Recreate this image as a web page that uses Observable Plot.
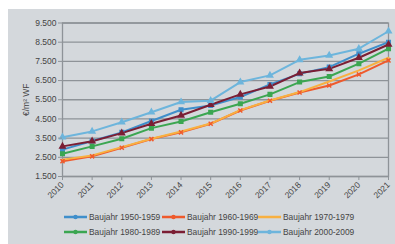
<!DOCTYPE html>
<html><head><meta charset="utf-8">
<script src="https://cdn.jsdelivr.net/npm/d3@7"></script>
<script src="https://cdn.jsdelivr.net/npm/@observablehq/plot@0.6"></script>
<style>
html,body{margin:0;padding:0;background:#fff;}
#box{position:absolute;left:8px;top:9px;width:387px;height:235px;background:#d4d8dc;font-family:"Liberation Sans",Arial,sans-serif;}
#legend{position:absolute;left:0;top:200px;width:387px;height:35px;font-size:8.4px;color:#444;}
.item{position:absolute;display:flex;align-items:center;white-space:nowrap;}
.item svg{margin-right:2px;}
</style></head><body>
<div id="box"><div id="chart"></div><div id="legend"></div></div>
<script>
const years = [2010,2011,2012,2013,2014,2015,2016,2017,2018,2019,2020,2021];
const seriesNames = ["Baujahr 1950-1959","Baujahr 1960-1969","Baujahr 1970-1979","Baujahr 1980-1989","Baujahr 1990-1999","Baujahr 2000-2009"];
const colors = ["#3f8fcb","#ef5a2c","#f8b040","#3ba651","#7b1e34","#6db5dc"];
const v1950 = [2900,3350,3800,4390,4980,5200,5640,6300,6850,7200,7900,8500];
const v1960 = [2300,2550,3000,3450,3800,4250,4940,5450,5880,6240,6820,7550];
const v1970 = [2380,2600,3030,3470,3850,4260,4960,5460,5900,6450,7030,7690];
const v1980 = [2690,3070,3470,4020,4370,4850,5290,5780,6420,6710,7380,8160];
const v1990 = [3070,3340,3760,4250,4680,5240,5780,6190,6890,7110,7690,8380];
const v2000 = [3550,3850,4330,4850,5380,5450,6420,6770,7580,7810,8160,9070];
const yTicks = [1500,2500,3500,4500,5500,6500,7500,8500,9500];
const yLabel = "€/m² WF";
const symbols = ["square","times","circle","square","triangle","triangle"];

const allValues = [v1950,v1960,v1970,v1980,v1990,v2000];
const data = [];
seriesNames.forEach((s,i)=>years.forEach((y,j)=>data.push({series:s, year:y, value:allValues[i][j]})));

const fmt = d => d3.format(",")(d).replace(/,/g,".");

const chart = Plot.plot({
  width: 387, height: 200,
  marginLeft: 54, marginRight: 7, marginTop: 13.5, marginBottom: 33,
  style:{background:"transparent", fontFamily:"'Liberation Sans',Arial,sans-serif", fontSize:"8.5px", color:"#444"},
  x:{type:"linear", domain:[2010,2021], ticks: years, tickFormat: d=>String(d), tickRotate:-45, tickSize:4, tickPadding:3, label:null},
  y:{domain:[1500,9500], ticks: yTicks, tickFormat: fmt, tickSize:4, tickPadding:2, label: yLabel, labelAnchor:"center", labelArrow:"none", labelOffset:40},
  color:{domain: seriesNames, range: colors},
  symbol:{domain: seriesNames, range: symbols},
  marks:[
    Plot.gridY(yTicks,{stroke:"#8e9398", strokeOpacity:1, strokeWidth:1.3}),
    Plot.frame({stroke:"#8e9398", strokeWidth:1.3}),
    Plot.lineY(data,{x:"year", y:"value", z:"series", stroke:"series", strokeWidth:2}),
    Plot.dot(data.filter(d=>d.series!=="Baujahr 1970-1979"),{x:"year", y:"value", fill:"series", stroke:"series", symbol:"series", r:2}),
    Plot.axisY(yTicks,{tickFormat:fmt, tickSize:4, tickPadding:2, stroke:"#8e9398", label: yLabel, labelAnchor:"center", labelArrow:"none", labelOffset:40}),
    Plot.axisX(years,{tickFormat:d=>String(d), tickRotate:-45, tickSize:4, tickPadding:3, stroke:"#8e9398", label:null})
  ]
});
document.getElementById("chart").appendChild(chart);

const lg = document.getElementById("legend");
const cols = [56,154,250];
seriesNames.forEach((s,i)=>{
  const d = document.createElement("div");
  d.className="item";
  d.style.left = cols[i%3]+"px";
  d.style.top = (i<3?2.5:17.5)+"px";
  d.innerHTML = `<svg width="23" height="8"><line x1="0" y1="4" x2="23" y2="4" stroke="${colors[i]}" stroke-width="2.5"/>${i===2?"":`<circle cx="11.5" cy="4" r="2.2" fill="${colors[i]}"/>`}</svg><span>${s}</span>`;
  lg.appendChild(d);
});
</script>
</body></html>
